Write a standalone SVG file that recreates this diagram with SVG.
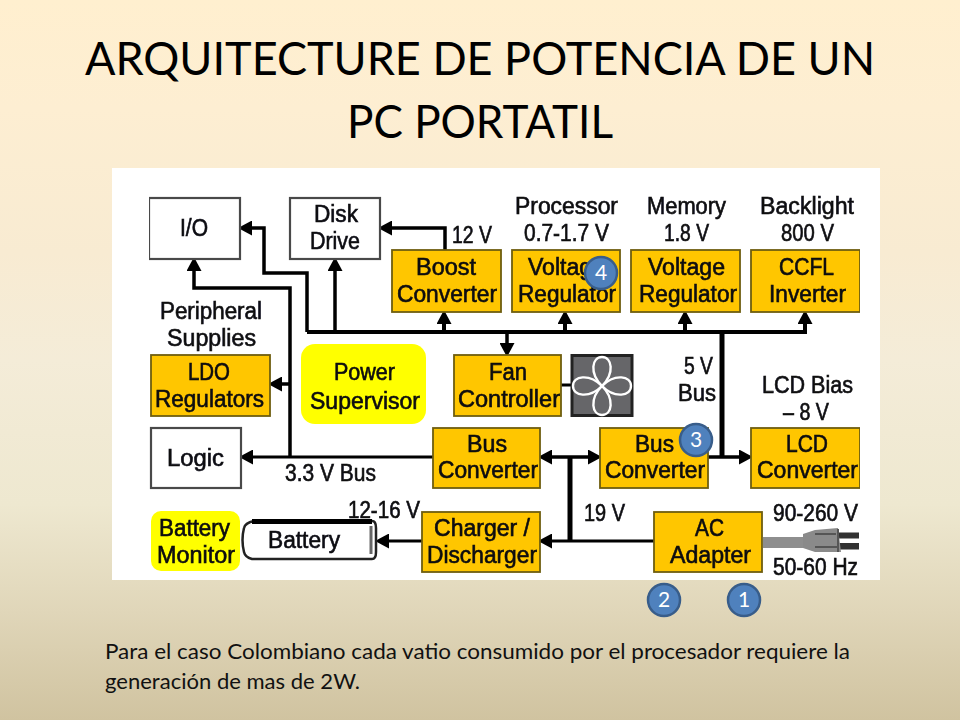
<svg xmlns="http://www.w3.org/2000/svg" width="960" height="720" viewBox="0 0 960 720">
<style>
.t{font-family:"Liberation Sans",Arial,sans-serif;font-size:23.500px;fill:#0a0a12;stroke:#0a0a12;stroke-width:.6px}
.h{font-family:Lato,"Noto Sans",sans-serif;fill:#000}
.title{font-size:47px}
.body{font-size:21px;fill:#111}
.n{font-family:Lato,"Noto Sans",sans-serif;font-size:21px;fill:#fff;text-anchor:middle}
.o{fill:#ffc600;stroke:#6e5c12;stroke-width:1.8}
.w{fill:#fff;stroke:#4a4a4a;stroke-width:2.2}
.y{fill:#ff0}
.c{fill:none;stroke:#000;stroke-linejoin:miter}
.b{fill:#4f81bd;stroke:#385d8a;stroke-width:2.5}
.p{fill:none;stroke:#fff;stroke-width:2.4}
</style>
<defs>
<linearGradient id="bg" x1="0" y1="0" x2="0" y2="1">
<stop offset="0" stop-color="#ffefcf"/>
<stop offset=".15" stop-color="#fdeed2"/>
<stop offset=".35" stop-color="#f8ebd2"/>
<stop offset=".5" stop-color="#f4ecd8"/>
<stop offset=".7" stop-color="#eee8d0"/>
<stop offset=".85" stop-color="#e0d6b9"/>
<stop offset="1" stop-color="#d0c3a0"/>
</linearGradient>
<filter id="soft" x="0" y="0" width="1" height="1"><feGaussianBlur stdDeviation="0.45"/></filter>
<marker id="a" markerUnits="userSpaceOnUse" markerWidth="15" markerHeight="15" viewBox="0 0 15 15" refX="6" refY="7.500" orient="auto"><path d="M0 0L14 7.500L0 15Z" fill="#000"/></marker>
<path id="petal" d="M602 386C589 373 592 357 602 357C612 357 615 373 602 386Z"/>
</defs>
<rect width="960" height="720" fill="url(#bg)"/>
<text class="h title" x="85" y="75" textLength="790" lengthAdjust="spacingAndGlyphs">ARQUITECTURE DE POTENCIA DE UN</text>
<text class="h title" x="347" y="138" textLength="266" lengthAdjust="spacingAndGlyphs">PC PORTATIL</text>
<rect x="112" y="168" width="768" height="412" fill="#fff"/>

<g id="panel" filter="url(#soft)">
<g id="connectors">
<path class="c" stroke-width="4" d="M307 332H807"/>
<path class="c" stroke-width="4" marker-end="url(#a)" d="M444 332V318"/>
<path class="c" stroke-width="4" marker-end="url(#a)" d="M565 332V318"/>
<path class="c" stroke-width="4" marker-end="url(#a)" d="M685 332V318"/>
<path class="c" stroke-width="4" marker-end="url(#a)" d="M805 334V318"/>
<path class="c" stroke-width="3.500" marker-end="url(#a)" d="M507 332V349"/>
<path class="c" stroke-width="3.500" marker-end="url(#a)" d="M335 332V265"/>
<path class="c" stroke-width="3.500" marker-end="url(#a)" d="M307 332V273H264V228H246"/>
<path class="c" stroke-width="3.500" marker-end="url(#a)" d="M445 250V228H386"/>
<path class="c" stroke-width="3.500" marker-end="url(#a)" d="M290 457V288H194V265"/>
<path class="c" stroke-width="3.500" marker-end="url(#a)" d="M290 384H276"/>
<path class="c" stroke-width="3" marker-end="url(#a)" d="M433 457H247"/>
<path class="c" stroke-width="5" d="M722 332V457"/>
<path class="c" stroke-width="3.500" marker-end="url(#a)" d="M708 457H745"/>
<path class="c" stroke-width="3.500" marker-end="url(#a)" d="M570 457H594"/>
<path class="c" stroke-width="3.500" marker-end="url(#a)" d="M570 457H546"/>
<path class="c" stroke-width="5" d="M570 457V541"/>
<path class="c" stroke-width="3" marker-end="url(#a)" d="M654 541H546"/>
<path class="c" stroke-width="3" marker-end="url(#a)" d="M422 541H383"/>
<path class="c" stroke-width="3" d="M561 385H571"/>
</g>

<g id="io"><rect class="w" x="149" y="198" width="91" height="61"/><text class="t" x="180" y="236" textLength="28" lengthAdjust="spacingAndGlyphs">I/O</text></g>
<g id="disk-drive"><rect class="w" x="290" y="198" width="90" height="61"/><text class="t" x="314" y="222" textLength="44" lengthAdjust="spacingAndGlyphs">Disk</text><text class="t" x="310" y="249" textLength="50" lengthAdjust="spacingAndGlyphs">Drive</text></g>
<g id="label-12v"><text class="t" x="452" y="243" textLength="40" lengthAdjust="spacingAndGlyphs">12 V</text></g>
<g id="boost"><rect class="o" x="392" y="250" width="109" height="62"/><text class="t" x="416" y="275" textLength="60" lengthAdjust="spacingAndGlyphs">Boost</text><text class="t" x="397" y="302" textLength="100" lengthAdjust="spacingAndGlyphs">Converter</text></g>
<g id="label-processor"><text class="t" x="515" y="214" textLength="103" lengthAdjust="spacingAndGlyphs">Processor</text><text class="t" x="524" y="241" textLength="85" lengthAdjust="spacingAndGlyphs">0.7-1.7 V</text></g>
<g id="vr-processor"><rect class="o" x="512" y="250" width="108" height="62"/><text class="t" x="528" y="275" textLength="77" lengthAdjust="spacingAndGlyphs">Voltage</text><text class="t" x="518" y="302" textLength="98" lengthAdjust="spacingAndGlyphs">Regulator</text></g>
<g id="label-memory"><text class="t" x="647" y="214" textLength="79" lengthAdjust="spacingAndGlyphs">Memory</text><text class="t" x="664" y="241" textLength="45" lengthAdjust="spacingAndGlyphs">1.8 V</text></g>
<g id="vr-memory"><rect class="o" x="631" y="250" width="109" height="62"/><text class="t" x="648" y="275" textLength="77" lengthAdjust="spacingAndGlyphs">Voltage</text><text class="t" x="639" y="302" textLength="98" lengthAdjust="spacingAndGlyphs">Regulator</text></g>
<g id="label-backlight"><text class="t" x="760" y="214" textLength="94" lengthAdjust="spacingAndGlyphs">Backlight</text><text class="t" x="781" y="241" textLength="53" lengthAdjust="spacingAndGlyphs">800 V</text></g>
<g id="ccfl"><rect class="o" x="751" y="250" width="109" height="62"/><text class="t" x="779" y="275" textLength="55" lengthAdjust="spacingAndGlyphs">CCFL</text><text class="t" x="769" y="302" textLength="77" lengthAdjust="spacingAndGlyphs">Inverter</text></g>
<g id="label-peripheral"><text class="t" x="160" y="319" textLength="102" lengthAdjust="spacingAndGlyphs">Peripheral</text><text class="t" x="167" y="346" textLength="89" lengthAdjust="spacingAndGlyphs">Supplies</text></g>
<g id="ldo"><rect class="o" x="151" y="355" width="119" height="61"/><text class="t" x="188" y="380" textLength="42" lengthAdjust="spacingAndGlyphs">LDO</text><text class="t" x="155" y="407" textLength="109" lengthAdjust="spacingAndGlyphs">Regulators</text></g>
<g id="power-supervisor"><rect class="y" x="301" y="344" width="125" height="80" rx="14"/><text class="t" x="334" y="380" textLength="61" lengthAdjust="spacingAndGlyphs">Power</text><text class="t" x="310" y="409" textLength="110" lengthAdjust="spacingAndGlyphs">Supervisor</text></g>
<g id="fan-controller"><rect class="o" x="454" y="355" width="107" height="61"/><text class="t" x="489" y="380" textLength="38" lengthAdjust="spacingAndGlyphs">Fan</text><text class="t" x="458" y="407" textLength="102" lengthAdjust="spacingAndGlyphs">Controller</text></g>
<g id="fan"><rect x="572" y="355.500" width="60" height="60" fill="#666669" stroke="#222" stroke-width="3"/><use href="#petal" class="p"/><use href="#petal" class="p" transform="rotate(90 602 386)"/><use href="#petal" class="p" transform="rotate(180 602 386)"/><use href="#petal" class="p" transform="rotate(270 602 386)"/></g>
<g id="label-5v"><text class="t" x="684" y="374" textLength="29" lengthAdjust="spacingAndGlyphs">5 V</text><text class="t" x="678" y="401" textLength="38" lengthAdjust="spacingAndGlyphs">Bus</text></g>
<g id="label-lcd-bias"><text class="t" x="762" y="393" textLength="91" lengthAdjust="spacingAndGlyphs">LCD Bias</text><text class="t" x="783" y="420" textLength="46" lengthAdjust="spacingAndGlyphs">– 8 V</text></g>
<g id="logic"><rect class="w" x="151" y="428" width="90" height="60"/><text class="t" x="167" y="466" textLength="57" lengthAdjust="spacingAndGlyphs">Logic</text></g>
<g id="label-33v"><text class="t" x="285" y="481" textLength="91" lengthAdjust="spacingAndGlyphs">3.3 V Bus</text></g>
<g id="bus-converter-1"><rect class="o" x="433" y="428" width="107" height="60"/><text class="t" x="467" y="452" textLength="40" lengthAdjust="spacingAndGlyphs">Bus</text><text class="t" x="438" y="478" textLength="100" lengthAdjust="spacingAndGlyphs">Converter</text></g>
<g id="bus-converter-2"><rect class="o" x="600" y="428" width="108" height="60"/><text class="t" x="635" y="452" textLength="39" lengthAdjust="spacingAndGlyphs">Bus</text><text class="t" x="605" y="478" textLength="100" lengthAdjust="spacingAndGlyphs">Converter</text></g>
<g id="lcd-converter"><rect class="o" x="751" y="428" width="109" height="60"/><text class="t" x="786" y="452" textLength="42" lengthAdjust="spacingAndGlyphs">LCD</text><text class="t" x="757" y="478" textLength="101" lengthAdjust="spacingAndGlyphs">Converter</text></g>
<g id="label-1216v"><text class="t" x="348" y="518" textLength="72" lengthAdjust="spacingAndGlyphs">12-16 V</text></g>
<g id="battery-monitor"><rect class="y" x="151" y="511" width="89" height="60" rx="10"/><text class="t" x="159" y="536" textLength="71" lengthAdjust="spacingAndGlyphs">Battery</text><text class="t" x="157" y="563" textLength="78" lengthAdjust="spacingAndGlyphs">Monitor</text></g>
<g id="battery"><path d="M254 521H372Q376 521 376 528V552Q376 559 372 559H252Q245 557 244 552Q241 540 244 528Q245 523 254 521Z" fill="#fff" stroke="#222" stroke-width="2.500"/><path d="M252 521.500H372" stroke="#000" stroke-width="5" fill="none"/><path d="M371 526V554" stroke="#666" stroke-width="3" fill="none"/><text class="t" x="268" y="548" textLength="72" lengthAdjust="spacingAndGlyphs">Battery</text></g>
<g id="charger"><rect class="o" x="422" y="512" width="118" height="60"/><text class="t" x="434" y="536" textLength="96" lengthAdjust="spacingAndGlyphs">Charger /</text><text class="t" x="427" y="563" textLength="110" lengthAdjust="spacingAndGlyphs">Discharger</text></g>
<g id="label-19v"><text class="t" x="584" y="521" textLength="41" lengthAdjust="spacingAndGlyphs">19 V</text></g>
<g id="ac-adapter"><rect class="o" x="654" y="512" width="108" height="60"/><text class="t" x="695" y="536" textLength="29" lengthAdjust="spacingAndGlyphs">AC</text><text class="t" x="670" y="563" textLength="81" lengthAdjust="spacingAndGlyphs">Adapter</text></g>
<g id="plug">
<rect x="763" y="537" width="42" height="11" fill="#8e8e8e"/>
<path d="M838 532.500H859V538.500H838ZM838 543H859V549.500H838Z" fill="#333"/>
<path d="M803 534L815 530L838 528L841 552L815 552L803 548Z" fill="#8a8a8a"/>
<path d="M815 534H836M815 547H838M838 529V552" stroke="#555" stroke-width="2" fill="none"/>
<text class="t" x="773" y="521" textLength="85" lengthAdjust="spacingAndGlyphs">90-260 V</text><text class="t" x="773" y="575" textLength="85" lengthAdjust="spacingAndGlyphs">50-60 Hz</text>
</g>
</g>
<g id="badge-1"><circle class="b" cx="744" cy="600" r="16"/><text class="n" x="744" y="607">1</text></g>
<g id="badge-2"><circle class="b" cx="664" cy="600" r="16"/><text class="n" x="664" y="607">2</text></g>
<g id="badge-3"><circle class="b" cx="696" cy="440" r="16"/><text class="n" x="696" y="447">3</text></g>
<g id="badge-4"><circle class="b" cx="601" cy="273" r="16"/><text class="n" x="601" y="280">4</text></g>
<text class="h body" x="105" y="659" textLength="745" lengthAdjust="spacingAndGlyphs">Para el caso Colombiano cada vatio consumido por el procesador requiere la</text>
<text class="h body" x="105" y="689" textLength="255" lengthAdjust="spacingAndGlyphs">generación de mas de 2W.</text>
</svg>
